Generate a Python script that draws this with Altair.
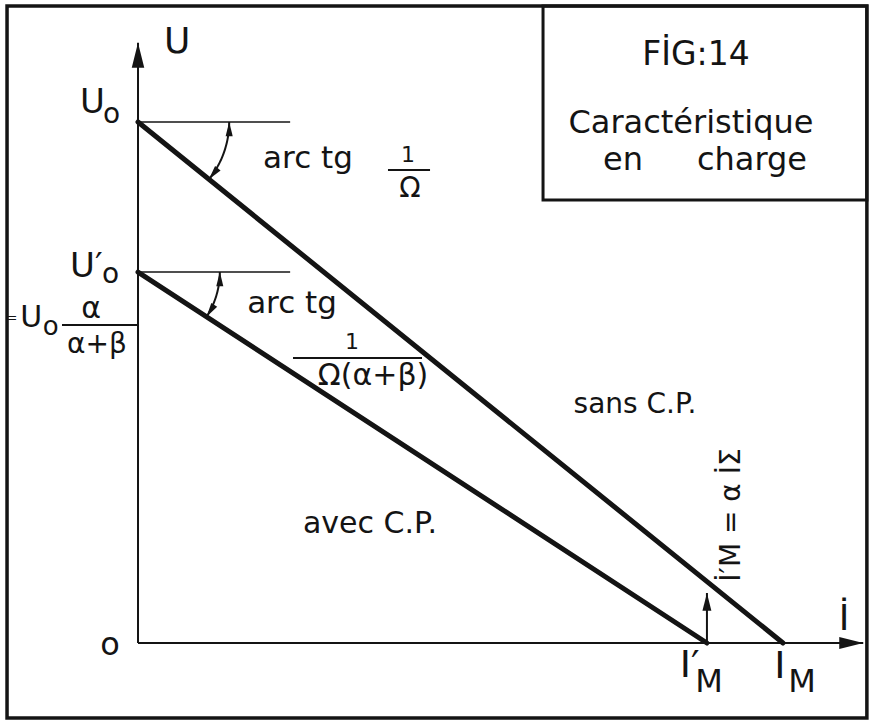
import numpy as np
import pandas as pd
import altair as alt

# Load characteristic U = f(I), same unit length on both axes
U0 = 100.0       # no-load voltage, sans C.P.
U0_P = 71.2      # no-load voltage avec C.P. = U0 * alpha / (alpha + beta)
I_M = 123.8      # current at U = 0, sans C.P.
I_M_P = 109.2    # current at U = 0, avec C.P.
I_SIGMA_TIP = 9.6  # height reached by the alpha * I_sigma arrow

series = ["sans C.P.", "sans C.P.", "avec C.P.", "avec C.P."]
currents = [0.0, I_M, 0.0, I_M_P]
voltages = [U0, 0.0, U0_P, 0.0]

# Drawing extents
X_DOMAIN = [-26.49, 140.69]
Y_DOMAIN = [-15.74, 123.42]
AXIS_X_END = 139.2
AXIS_Y_END = 115.2
REF_LEN = 29.2
FRAME = dict(x=-25.14, x2=139.9, y=122.27, y2=-14.4)
TITLE_BOX = dict(x=77.74, x2=139.9, y=122.27, y2=85.03)

INK = "#141414"
FONT = "DejaVu Sans"

xs = alt.Scale(domain=X_DOMAIN, nice=False, zero=False)
ys = alt.Scale(domain=Y_DOMAIN, nice=False, zero=False)


def X(f):
    return alt.X(f, scale=xs, axis=None)


def Y(f):
    return alt.Y(f, scale=ys, axis=None)


# --- the two characteristics
curves = pd.DataFrame({"serie": series, "i": currents, "u": voltages})
lines = alt.Chart(curves).mark_line(color=INK, strokeWidth=5, strokeCap="round").encode(
    x=X("i:Q"), y=Y("u:Q"), detail="serie:N"
)

# --- axes
axes_df = pd.DataFrame({"x": [0.0, 0.0], "x2": [AXIS_X_END, 0.0], "y": [0.0, 0.0], "y2": [0.0, AXIS_Y_END]})
axes = alt.Chart(axes_df).mark_rule(color=INK, strokeWidth=2).encode(
    x=X("x:Q"), x2="x2:Q", y=Y("y:Q"), y2="y2:Q"
)

# horizontal references at U0 and U0'
refs_df = pd.DataFrame({"x": [0.0, 0.0], "x2": [REF_LEN, REF_LEN], "y": [U0, U0_P]})
refs = alt.Chart(refs_df).mark_rule(color=INK, strokeWidth=1.5).encode(
    x=X("x:Q"), x2="x2:Q", y=Y("y:Q")
)

# arrow I'_M -> alpha I_sigma
vec_df = pd.DataFrame({"x": [I_M_P], "y": [0.0], "y2": [I_SIGMA_TIP]})
vec = alt.Chart(vec_df).mark_rule(color=INK, strokeWidth=2).encode(
    x=X("x:Q"), y=Y("y:Q"), y2="y2:Q"
)

# --- angle arcs (arc tg of each slope)
arc_rows = []
head_rows = []
for name, u0, i_end, r in [("a", U0, I_M, 17.5), ("b", U0_P, I_M_P, 15.7)]:
    phi1 = np.arctan2(u0, i_end)
    for k, p in enumerate(np.linspace(0.0, phi1, 40)):
        arc_rows.append({"arc": name, "k": k, "x": r * np.cos(p), "y": u0 - r * np.sin(p)})
    head_rows.append({"x": r, "y": u0, "a": 0.0, "s": 200})
    head_rows.append({"x": r * np.cos(phi1), "y": u0 - r * np.sin(phi1),
                      "a": 180.0 + np.degrees(phi1), "s": 200})
arcs = alt.Chart(pd.DataFrame(arc_rows)).mark_line(color=INK, strokeWidth=2).encode(
    x=X("x:Q"), y=Y("y:Q"), detail="arc:N", order="k:Q"
)

# arrow heads: tip at the anchor point, pointing up before rotation
HEAD = "M0,0L0.5,2L-0.5,2Z"
head_rows += [
    {"x": 0.0, "y": AXIS_Y_END, "a": 0.0, "s": 625},
    {"x": AXIS_X_END, "y": 0.0, "a": 90.0, "s": 576},
    {"x": I_M_P, "y": I_SIGMA_TIP, "a": 0.0, "s": 320},
]
heads = alt.Chart(pd.DataFrame(head_rows)).mark_point(
    shape=HEAD, filled=True, color=INK, opacity=1, strokeWidth=0
).encode(
    x=X("x:Q"), y=Y("y:Q"),
    angle=alt.Angle("a:Q", scale=None),
    size=alt.Size("s:Q", scale=None),
)

# --- frames
frame = alt.Chart(pd.DataFrame([FRAME])).mark_rect(
    fill=None, stroke=INK, strokeWidth=3.5
).encode(x=X("x:Q"), x2="x2:Q", y=Y("y:Q"), y2="y2:Q")
box = alt.Chart(pd.DataFrame([TITLE_BOX])).mark_rect(
    fill=None, stroke=INK, strokeWidth=3
).encode(x=X("x:Q"), x2="x2:Q", y=Y("y:Q"), y2="y2:Q")

# fraction bars
bars_df = pd.DataFrame({
    "x": [-14.59, 47.98, 29.75],
    "x2": [-0.19, 56.05, 54.51],
    "y": [61.04, 90.79, 54.70],
})
bars = alt.Chart(bars_df).mark_rule(color=INK, strokeWidth=2).encode(
    x=X("x:Q"), x2="x2:Q", y=Y("y:Q")
)

# --- lettering
center_txt = pd.DataFrame([
    ("U", 7.5, 113.2, 36, 0),
    ("=", -24.2, 61.6, 13, 0),
    ("α", -9.02, 62.38, 30, 0),
    ("α+β", -7.87, 55.66, 28, 0),
    ("arc tg", 32.63, 91.17, 31, 0),
    ("1", 51.82, 92.3, 22, 0),
    ("Ω", 52.21, 85.6, 28, 0),
    ("arc tg", 29.56, 63.34, 31, 0),
    ("1", 41.07, 56.4, 22, 0),
    ("Ω(α+β)", 45.11, 49.5, 30, 0),
    ("sans C.P.", 95.39, 44.15, 28, 0),
    ("avec C.P.", 44.53, 21.11, 30, 0),
    ("o", -5.37, -2.3, 32, 0),
    ("İ", 135.51, 2.5, 36, 0),
    ("I", 123.22, -6.72, 38, 0),
    ("M", 127.45, -9.4, 32, 0),
    ("M", 109.6, -9.4, 32, 0),
    ("FİG:14", 107.1, 110.94, 33, 0),
    ("Caractéristique", 106.14, 97.89, 32, 0),
    ("en", 93.09, 90.79, 32, 0),
    ("charge", 117.85, 90.79, 32, 0),
    ("İ′M = α İΣ", 115.55, 24.57, 28, 270),
], columns=["t", "x", "y", "fs", "a"])

left_txt = pd.DataFrame([
    ("U", -11.13, 101.73, 34),
    ("o", -6.72, 99.81, 28),
    ("U′", -13.05, 70.25, 34),
    ("o", -6.9, 69.1, 28),
    ("U", -22.6, 60.65, 30),
    ("o", -18.3, 59.12, 26),
    ("I′", 104.0, -6.53, 38),
], columns=["t", "x", "y", "fs"])


def text_layer(df, align, rotate=False):
    enc = dict(
        x=X("x:Q"), y=Y("y:Q"), text="t:N",
        size=alt.Size("fs:Q", scale=None),
    )
    if rotate:
        enc["angle"] = alt.Angle("a:Q", scale=None)
    return alt.Chart(df).mark_text(
        align=align, baseline="alphabetic", font=FONT, color=INK
    ).encode(**enc)


chart = alt.layer(
    frame, box, axes, refs, lines, arcs, vec, bars, heads,
    text_layer(center_txt, "center", rotate=True),
    text_layer(left_txt, "left"),
).properties(
    width=871, height=725,
    autosize=alt.AutoSizeParams(type="none"),
    padding=0,
    background="white",
).configure_view(stroke=None)

chart.save("out.html", embed_options={"renderer": "svg", "actions": False})
